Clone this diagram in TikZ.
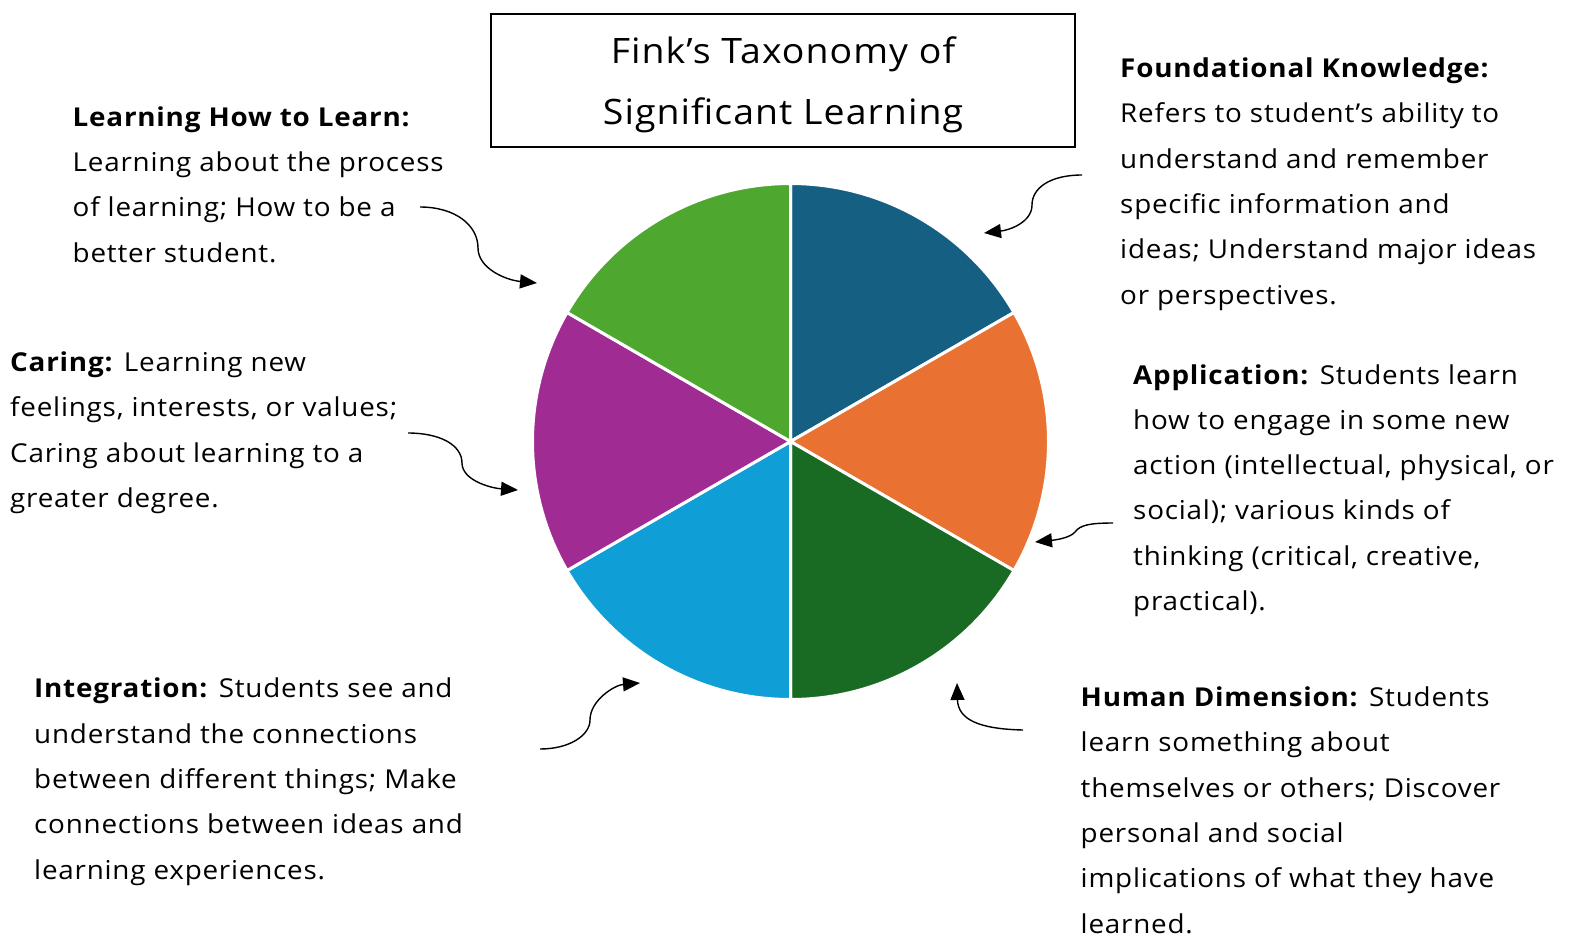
\documentclass[tikz,border=0pt]{standalone}
\usepackage{fontspec}
\setmainfont{Open Sans}[FakeStretch=1.07, LetterSpace=3]
\usetikzlibrary{arrows.meta}
\definecolor{cblue}{HTML}{156082}
\definecolor{corange}{HTML}{E97132}
\definecolor{cdgreen}{HTML}{196B24}
\definecolor{clblue}{HTML}{0F9ED5}
\definecolor{cpurple}{HTML}{A02B93}
\definecolor{cgreen}{HTML}{4EA72E}
\tikzset{
  slice/.style={draw=white, line width=3pt, line join=round},
  desc/.style={anchor=base west, align=left, inner sep=0pt, font=\fontsize{26}{45.3}\selectfont},
  arr/.style={line width=1.4pt, -{Triangle[length=17pt,width=14pt]}},
}
\begin{document}
\begin{tikzpicture}[x=1pt,y=-1pt]
\useasboundingbox[fill=white] (0,0) rectangle (1579,938);
% pie
\coordinate (C) at (790.5,441.5);
\filldraw[fill=cblue,slice]   (C) -- ++(90:258pt)  arc[start angle=90,  end angle=30,   radius=258pt] -- cycle;
\filldraw[fill=corange,slice] (C) -- ++(30:258pt)  arc[start angle=30,  end angle=-30,  radius=258pt] -- cycle;
\filldraw[fill=cdgreen,slice] (C) -- ++(-30:258pt) arc[start angle=-30, end angle=-90,  radius=258pt] -- cycle;
\filldraw[fill=clblue,slice]  (C) -- ++(-90:258pt) arc[start angle=-90, end angle=-150, radius=258pt] -- cycle;
\filldraw[fill=cpurple,slice] (C) -- ++(210:258pt) arc[start angle=210, end angle=150,  radius=258pt] -- cycle;
\filldraw[fill=cgreen,slice]  (C) -- ++(150:258pt) arc[start angle=150, end angle=90,   radius=258pt] -- cycle;
% title
\node[draw, line width=1.3pt, minimum width=584pt, minimum height=133pt] (titlebox) at (783,80.5) {};
\node[align=center, inner sep=0pt, font=\fontsize{35}{61}\selectfont] (title) at (783,85) {Fink’s Taxonomy of\\Significant Learning};
% texts (anchored at the baseline of the last line)
\node[desc] (learn) at (72.5,262) {\textbf{Learning How to Learn:}\\Learning about the process\\of learning; How to be a\\better student.};
\node[desc] (caring) at (10,507.5) {\textbf{Caring:} Learning new\\feelings, interests, or values;\\Caring about learning to a\\greater degree.};
\node[desc] (integ) at (34,879) {\textbf{Integration:} Students see and\\understand the connections\\between different things; Make\\connections between ideas and\\learning experiences.};
\node[desc] (found) at (1120,304) {\textbf{Foundational Knowledge:}\\Refers to student’s ability to\\understand and remember\\specific information and\\ideas; Understand major ideas\\or perspectives.};
\node[desc] (appl) at (1133,610.5) {\textbf{Application:} Students learn\\how to engage in some new\\action (intellectual, physical, or\\social); various kinds of\\thinking (critical, creative,\\practical).};
\node[desc] (human) at (1080.5,933) {\textbf{Human Dimension:} Students\\learn something about\\themselves or others; Discover\\personal and social\\implications of what they have\\learned.};
% arrows
\coordinate (a1s) at (420,207); \coordinate (a1m) at (478,248); \coordinate (a1e) at (537,283);
\draw[arr] (a1s) .. controls (455,207) and (478,225) .. (a1m) .. controls (478,268) and (505,280) .. (a1e);
\coordinate (a2s) at (1082,175); \coordinate (a2m) at (1032,205); \coordinate (a2e) at (984,233);
\draw[arr] (a2s) .. controls (1050,175) and (1032,188) .. (a2m) .. controls (1032,222) and (1010,230) .. (a2e);
\coordinate (a3s) at (408,433); \coordinate (a3m) at (462,463); \coordinate (a3e) at (518,490);
\draw[arr] (a3s) .. controls (440,433) and (462,445) .. (a3m) .. controls (462,480) and (490,488) .. (a3e);
\coordinate (a4s) at (1113,523); \coordinate (a4m) at (1075,532); \coordinate (a4e) at (1035,542);
\draw[arr] (a4s) .. controls (1090,523) and (1080,525) .. (a4m) .. controls (1070,538) and (1055,540) .. (a4e);
\coordinate (a5s) at (540,749); \coordinate (a5m) at (590,720); \coordinate (a5e) at (640,683);
\draw[arr] (a5s) .. controls (570,749) and (590,735) .. (a5m) .. controls (590,700) and (615,685) .. (a5e);
\coordinate (a6s) at (1023,730); \coordinate (a6e) at (957,683);
\draw[arr] (a6s) .. controls (980,729) and (958,720) .. (a6e);
\end{tikzpicture}
\end{document}
